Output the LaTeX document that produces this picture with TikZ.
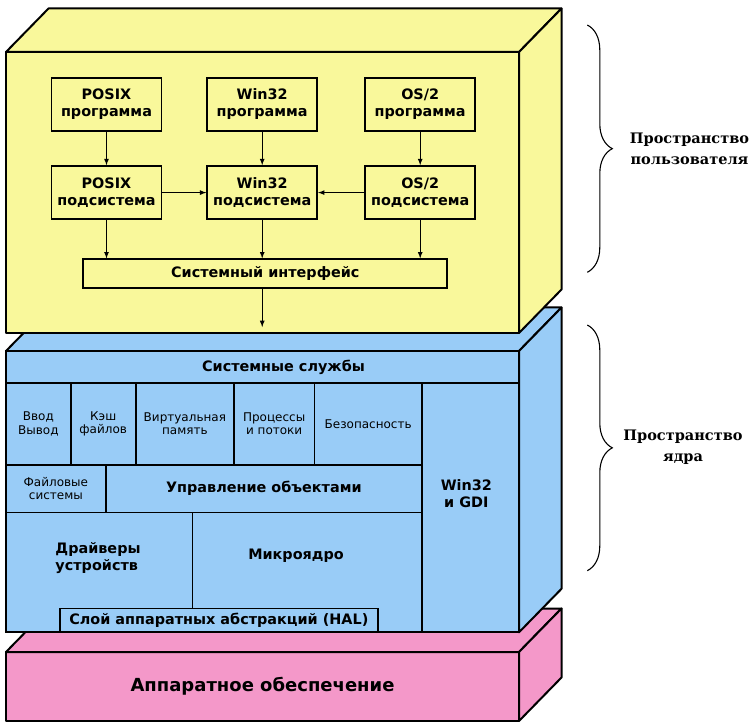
\documentclass[tikz,border=0pt]{standalone}
\usepackage{fontspec}
\setmainfont{DejaVu Sans}
\newfontfamily\spacefont{DejaVu Serif}
\usepackage{tikz}
\usetikzlibrary{positioning, arrows, decorations.pathreplacing}

\definecolor{userfill}{HTML}{F9F89B}
\definecolor{kernelfill}{HTML}{99CCF7}
\definecolor{hwfill}{HTML}{F498C9}

\begin{document}
\begin{tikzpicture}[x=1pt, y=-1pt, >=latex,
	face/.style={draw, line width=2pt, line join=round},
	big/.style={font=\fontsize{14.4}{17}\selectfont\bfseries},
	small/.style={font=\fontsize{12}{13.5}\selectfont},
	prog/.style={draw, big, line width=1.7pt, minimum width=110pt, minimum height=53pt, inner sep=1pt, align=center},
	cell/.style={draw, line width=1.6pt, fill=kernelfill, inner sep=0pt, outer sep=0pt, align=center},
	row/.style={cell, small, minimum height=82.3pt},
	flow/.style={->, line width=1.2pt},
	brace/.style={decorate, decoration={brace, amplitude=25pt}, line width=1.1pt},
	space/.style={align=center, font=\fontsize{14.5}{20.5}\selectfont\spacefont\bfseries}]
	\useasboundingbox (0,0) rectangle (755,727);
	
	\foreach \ftop/\fbot/\col in {652/721/hwfill, 351/632.3/kernelfill, 52/333/userfill}{
		\draw[face, fill=\col] (6,\ftop) rectangle (519,\fbot);
		\draw[face, fill=\col] (6,\ftop) -- ++(42.5,-43.5) -- ++(513,0) -- (519,\ftop) -- cycle;
		\draw[face, fill=\col] (519,\ftop) -- ++(42.5,-43.5) -- ++(0,{\fbot-\ftop}) -- (519,\fbot) -- cycle;
	}
	
	\node[prog] (posixprog) at (106.5,104.3) {POSIX\\программа};
	\node[prog, right = 44pt of posixprog] (win32prog) {Win32\\программа};
	\node[prog, right = 46.3pt of win32prog] (os2prog) {OS/2\\программа};
	\node[prog, below = 33.6pt of posixprog] (posixsub) {POSIX\\подсистема};
	\node[prog, below = 33.6pt of win32prog] (win32sub) {Win32\\подсистема};
	\node[prog, below = 33.6pt of os2prog] (os2sub) {OS/2\\подсистема};
	\node[prog, minimum width=364pt, minimum height=29pt] (sysiface) at (265.3,273.8) {Системный интерфейс};
	\path (win32sub |- sysiface.south) ++(0,38) coordinate (kernelentry);
	
	\draw (posixprog) edge[flow] (posixsub);
	\draw (win32prog) edge[flow] (win32sub);
	\draw (os2prog) edge[flow] (os2sub);
	\draw (posixsub) edge[flow] (win32sub);
	\draw (os2sub) edge[flow] (win32sub);
	\draw (posixsub) edge[flow] (posixsub |- sysiface.north);
	\draw (win32sub) edge[flow] (win32sub |- sysiface.north);
	\draw (os2sub) edge[flow] (os2sub |- sysiface.north);
	\draw (win32sub |- sysiface.south) edge[flow] (kernelentry);
	
	\node[cell, minimum width=513pt, minimum height=31.7pt] (services) at (262.5,366.85) {};
	\node[row, minimum width=64.7pt] (io) at (38.35,423.85) {Ввод\\Вывод};
	\node[row, minimum width=65pt, right = 0pt of io] (cache) {Кэш\\файлов};
	\node[row, minimum width=98.3pt, right = 0pt of cache] (vmem) {Виртуальная\\память};
	\node[row, minimum width=80.3pt, right = 0pt of vmem] (procs) {Процессы\\и потоки};
	\node[row, minimum width=107.7pt, right = 0pt of procs] (security) {Безопасность};
	\node[cell, small, minimum width=99.7pt, minimum height=47.3pt, anchor=north west] (filesys) at (io.south west) {Файловые\\системы};
	\node[cell, big, minimum width=316.3pt, minimum height=47.3pt, right = 0pt of filesys] (objmgr) {Управление объектами};
	\node[cell, minimum width=186.3pt, minimum height=120pt, anchor=north west] (drivers) at (filesys.south west) {};
	\node[cell, minimum width=229.7pt, minimum height=120pt, right = 0pt of drivers] (micro) {};
	\node[cell, minimum width=97pt, minimum height=249.6pt, anchor=north west] (win32gdi) at (security.north east) {};
	\node[cell, big, minimum width=317.7pt, minimum height=24pt] (hal) at (218.85,620.3) {Слой аппаратных абстракций (HAL)};
	\draw[face] (6,351) rectangle (519,632.3);
	
	\node[big] (servicestext) at (283.5,367) {Системные службы};
	\node[big, align=left] (driverstext) at (98,558) {Драйверы\\устройств};
	\node[big] (microtext) at (296,556) {Микроядро};
	\node[big, align=center] (gditext) at (466.3,494) {Win32\\и GDI};
	\node[font=\fontsize{18}{21}\selectfont\bfseries] (hwtext) at (262.5,686) {Аппаратное обеспечение};
	
	\coordinate (usertop) at (587.3,25);
	\coordinate (userbot) at (587.3,272.3);
	\coordinate (kerneltop) at (587.3,325);
	\coordinate (kernelbot) at (587.3,570.7);
	\draw[brace] (usertop) -- (userbot);
	\draw[brace] (kerneltop) -- (kernelbot);
	\node[space] (usertext) at (689.5,149) {Пространство\\пользователя};
	\node[space] (kerneltext) at (683,447) {Пространство\\ядра};
	
\end{tikzpicture}
\end{document}
